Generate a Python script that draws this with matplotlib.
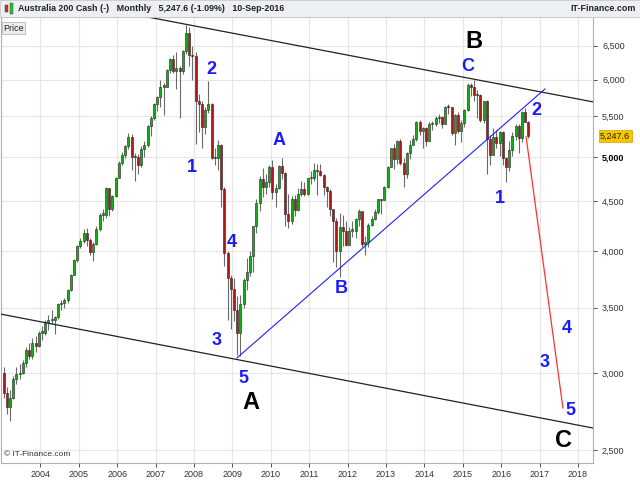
import matplotlib
matplotlib.use("Agg")
import matplotlib.pyplot as plt
import matplotlib.transforms as mtransforms
from matplotlib.patches import Rectangle
import numpy as np

plt.rcParams['font.family'] = ['Liberation Sans', 'DejaVu Sans']

# ---------------- data (monthly, Jan 2003 .. Sep 2016) ----------------
first_open = 3000
closes = [
    2860, 2770, 2830, 2960, 2990, 3000, 3070, 3170, 3120, 3220, 3200, 3300,   # 2003
    3300, 3380, 3400, 3400, 3420, 3530, 3540, 3560, 3650, 3780, 3920, 4050,   # 2004
    4100, 4180, 4110, 3990, 4070, 4220, 4360, 4360, 4640, 4420, 4560, 4760,   # 2005
    4930, 5020, 5130, 5240, 5000, 5000, 4900, 5090, 5140, 5380, 5480, 5670,   # 2006
    5760, 5900, 5900, 6140, 6300, 6130, 6170, 6120, 6420, 6700, 6360, 6340,   # 2007
    5700, 5670, 5360, 5590, 5670, 4980, 4980, 5140, 4630, 3980, 3750, 3660,   # 2008
    3480, 3300, 3530, 3740, 3810, 3950, 4250, 4480, 4740, 4650, 4710, 4880,   # 2009
    4600, 4640, 4890, 4810, 4370, 4300, 4520, 4410, 4580, 4630, 4580, 4750,   # 2010
    4750, 4850, 4830, 4790, 4660, 4610, 4420, 4300, 4000, 4240, 4200, 4060,   # 2011
    4200, 4200, 4320, 4400, 4070, 4090, 4260, 4320, 4390, 4520, 4510, 4650,   # 2012
    4880, 5100, 4970, 5190, 4930, 4800, 5050, 5140, 5220, 5430, 5320, 5350,   # 2013
    5190, 5400, 5400, 5480, 5490, 5400, 5630, 5620, 5290, 5520, 5310, 5410,   # 2014
    5590, 5930, 5890, 5790, 5780, 5460, 5700, 5210, 5020, 5240, 5170, 5300,   # 2015
    4980, 4880, 5080, 5250, 5380, 5230, 5560, 5430, 5247.6,                   # 2016
]
highs = [
    3040, 2900, 2880, 2980, 3040, 3060, 3090, 3190, 3220, 3260, 3270, 3310,
    3350, 3400, 3440, 3480, 3430, 3540, 3560, 3580, 3660, 3790, 3930, 4060,
    4130, 4220, 4230, 4130, 4090, 4250, 4380, 4420, 4650, 4640, 4570, 4770,
    4950, 5060, 5140, 5290, 5280, 5050, 5030, 5130, 5190, 5390, 5500, 5680,
    5770, 5990, 5950, 6150, 6320, 6360, 6410, 6200, 6430, 6830, 6790, 6500,
    6400, 5800, 5700, 5630, 5980, 5680, 5100, 5200, 5150, 4650, 4000, 3780,
    3750, 3600, 3610, 3750, 3940, 4000, 4250, 4520, 4780, 4870, 4800, 4900,
    4960, 4690, 4900, 4980, 4820, 4580, 4560, 4570, 4640, 4720, 4710, 4760,
    4840, 4930, 4910, 4920, 4800, 4670, 4630, 4420, 4330, 4380, 4360, 4300,
    4240, 4300, 4330, 4420, 4390, 4150, 4280, 4350, 4420, 4530, 4520, 4670,
    4890, 5110, 5150, 5200, 5220, 4980, 5060, 5200, 5270, 5440, 5450, 5360,
    5360, 5430, 5440, 5510, 5530, 5500, 5640, 5660, 5630, 5530, 5560, 5460,
    5600, 5950, 5950, 6000, 5850, 5800, 5710, 5720, 5260, 5350, 5330, 5320,
    5310, 5000, 5190, 5300, 5400, 5400, 5570, 5610, 5440,
]
lows = [
    2830, 2720, 2680, 2820, 2920, 2960, 2990, 3040, 3100, 3100, 3150, 3190,
    3240, 3280, 3320, 3370, 3290, 3410, 3480, 3500, 3540, 3640, 3780, 3900,
    4030, 4080, 4050, 3960, 3910, 4060, 4200, 4300, 4330, 4350, 4400, 4550,
    4750, 4900, 4980, 5090, 4850, 4720, 4800, 4880, 5000, 5120, 5250, 5450,
    5570, 5630, 5520, 5890, 6100, 6100, 5870, 5480, 6080, 6380, 6200, 6000,
    5150, 5300, 5100, 5280, 5550, 4970, 4900, 4850, 4440, 3860, 3400, 3330,
    3390, 3130, 3120, 3500, 3650, 3770, 3810, 4180, 4400, 4550, 4580, 4650,
    4520, 4440, 4630, 4740, 4250, 4230, 4270, 4350, 4400, 4560, 4560, 4570,
    4690, 4720, 4570, 4780, 4570, 4440, 4350, 3900, 3850, 3760, 4050, 4050,
    4060, 4140, 4130, 4250, 4040, 3960, 4040, 4250, 4310, 4370, 4370, 4510,
    4640, 4880, 4860, 4920, 4900, 4650, 4760, 4970, 5150, 5190, 5260, 5100,
    5130, 5190, 5330, 5380, 5410, 5350, 5400, 5530, 5270, 5140, 5290, 5180,
    5360, 5570, 5770, 5710, 5480, 5430, 5410, 4800, 4900, 5030, 5100, 5010,
    4900, 4710, 4830, 5010, 5200, 5050, 5180, 5430, 5230,
]
years = list(range(2004, 2019))
start_year = 2003
yticks = [2500, 3000, 3500, 4000, 4500, 5000, 5500, 6000, 6500]
last_price = 5247.6

# trend lines: (month index, value)
upper_channel = [(45.3, 6960), (184.7, 5693)]
lower_channel = [(-0.6, 3448), (184.7, 2633)]
blue_trend = [(73.4, 3107), (169.7, 5870)]
red_projection = [(163.8, 5240), (175.3, 2761)]

blue_labels = [("2", 65.3, 6153), ("1", 59.4, 4870), ("A", 86.6, 5200),
               ("4", 71.9, 4078), ("3", 67.2, 3242), ("5", 75.3, 2957),
               ("B", 105.9, 3658), ("C", 145.6, 6183), ("1", 155.6, 4535),
               ("2", 166.9, 5572), ("3", 169.7, 3071), ("4", 176.6, 3328),
               ("5", 177.8, 2742)]
black_labels = [("B", 147.5, 6560), ("A", 77.8, 2800), ("C", 175.6, 2554)]

# ---------------- figure ----------------
fig = plt.figure(figsize=(6.4, 4.8), dpi=100)
fig.patch.set_facecolor('white')
ax = fig.add_axes([1/640, 17/480, 592/640, 446/480])
ax.set_yscale('log')
ax.set_xlim(-0.31, 184.7)
ax.set_ylim(2424, 6958)

n = len(closes)
opens = [first_open] + closes[:-1]
x = np.arange(n) + 0.5
up = np.array(closes) >= np.array(opens)
green = '#10b010'
red = '#b01818'

ax.vlines(x, lows, highs, color='#6a6a6a', lw=0.8, zorder=3)
bottoms = np.minimum(opens, closes)
heights = np.abs(np.array(closes) - np.array(opens))
heights = np.maximum(heights, bottoms * 0.003)
ax.bar(x, heights, bottom=bottoms, width=0.65,
       color=[green if u else red for u in up],
       edgecolor='#222222', linewidth=0.4, zorder=4)

# trendlines
for seg, col, lw in [(upper_channel, '#222222', 0.9), (lower_channel, '#222222', 0.9),
                     (blue_trend, '#1f1fff', 0.8), (red_projection, '#ff3030', 0.9)]:
    xs, ys = zip(*seg)
    ax.plot(xs, ys, color=col, lw=lw, zorder=5)

for t, xi, yi in blue_labels:
    ax.text(xi, yi, t, color='#1a1aff', fontsize=13, fontweight='bold',
            ha='center', va='center', zorder=6)
for t, xi, yi in black_labels:
    ax.text(xi, yi, t, color='black', fontsize=17, fontweight='bold',
            ha='center', va='center', zorder=6)

# axes styling
ax.set_xticks([(y - start_year) * 12 for y in years])
ax.set_xticklabels([str(y) for y in years])
ax.set_yticks(yticks)
ax.set_yticklabels([f"{v:,}" for v in yticks])
ax.yaxis.set_minor_locator(matplotlib.ticker.NullLocator())
ax.yaxis.tick_right()
ax.tick_params(axis='both', labelsize=6.5, colors='#333333', length=3, width=0.6)
ax.tick_params(axis='x', pad=2)
for lab in ax.get_yticklabels():
    if lab.get_text() == '5,000':
        lab.set_fontweight('bold')
        lab.set_color('black')
ax.grid(True, color='#e6e6e6', lw=0.8, zorder=0)
ax.set_axisbelow(True)
for s in ax.spines.values():
    s.set_color('#b0b0b0')
    s.set_linewidth(0.8)

# current price tag
trans = mtransforms.blended_transform_factory(ax.transAxes, ax.transData)
ax.text(1.012, last_price, f"{last_price:,.1f}", transform=trans, fontsize=6.5,
        ha='left', va='center', color='#222222',
        bbox=dict(boxstyle='square,pad=0.15', fc='#f7c600', ec='#d0a000', lw=0.5))

# "Price" box and copyright
ax.text(0.004, 0.985, "Price", transform=ax.transAxes, fontsize=6.5, va='top', ha='left',
        color='#222222', bbox=dict(boxstyle='square,pad=0.15', fc='#eeeeee', ec='#aaaaaa', lw=0.5))
ax.text(0.005, 0.012, "© IT-Finance.com", transform=ax.transAxes, fontsize=6,
        va='bottom', ha='left', color='#333333')

# title bar
fig.patches.append(Rectangle((0, 463/480), 1, 17/480, transform=fig.transFigure,
                             fc='#eceff3', ec='#c8c8c8', lw=0.6, zorder=0))
fig.patches.append(Rectangle((5/640, 468/480), 3/640, 7/480, transform=fig.transFigure,
                             fc='#d03030', ec='#333333', lw=0.3))
fig.patches.append(Rectangle((10/640, 466/480), 3/640, 11/480, transform=fig.transFigure,
                             fc='#30c030', ec='#333333', lw=0.3))
fig.text(18/640, 471.5/480, "Australia 200 Cash (-)   Monthly   5,247.6 (-1.09%)   10-Sep-2016",
         fontsize=6.4, fontweight='bold', color='#222222', va='center', ha='left')
fig.text(636/640, 471.5/480, "IT-Finance.com", fontsize=6.4, fontweight='bold',
         color='#222222', va='center', ha='right')

fig.savefig('out.png', dpi=100)
